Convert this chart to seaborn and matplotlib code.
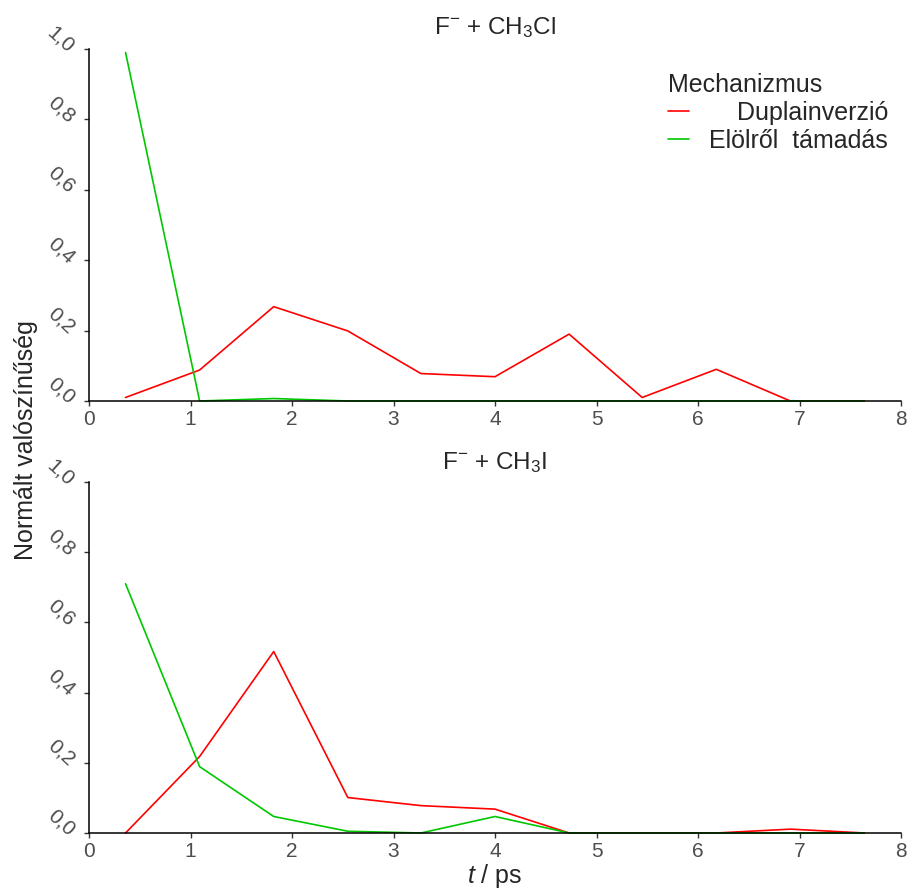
import matplotlib
matplotlib.use("Agg")
import matplotlib.pyplot as plt
import pandas as pd
import seaborn as sns

# Time bin centres (ps)
t_ps = [0.36, 1.09, 1.82, 2.55, 3.27, 4.00, 4.73, 5.45, 6.18, 6.91, 7.64]

# F- + CH3Cl
cl_duplainverzio = [0.010, 0.088, 0.268, 0.199, 0.078, 0.069, 0.190, 0.010, 0.090, 0.000, 0.000]
cl_elolrol = [0.990, 0.000, 0.007, 0.000, 0.000, 0.000, 0.000, 0.000, 0.000, 0.000, 0.000]

# F- + CH3I
i_duplainverzio = [0.000, 0.218, 0.517, 0.101, 0.078, 0.068, 0.000, 0.000, 0.000, 0.011, 0.000]
i_elolrol = [0.710, 0.189, 0.047, 0.005, 0.000, 0.047, 0.000, 0.000, 0.000, 0.000, 0.000]

mechanisms = ["Duplainverzió", "Elölről  támadás"]
colors = ["#FF0000", "#00C800"]
panel_titles = [r"F$^{-}$ + CH$_3$Cl", r"F$^{-}$ + CH$_3$I"]
x_ticks = [0, 1, 2, 3, 4, 5, 6, 7, 8]
y_ticks = [0.0, 0.2, 0.4, 0.6, 0.8, 1.0]
y_ticklabels = ["0,0", "0,2", "0,4", "0,6", "0,8", "1,0"]


def long_frame(dup, elo):
    rows = []
    for name, vals in zip(mechanisms, [dup, elo]):
        for t, p in zip(t_ps, vals):
            rows.append({"t": t, "p": p, "Mechanizmus": name})
    return pd.DataFrame(rows)


frames = [long_frame(cl_duplainverzio, cl_elolrol),
          long_frame(i_duplainverzio, i_elolrol)]

sns.set_style("ticks")
plt.rcParams["font.family"] = ["Liberation Sans", "DejaVu Sans"]
plt.rcParams["mathtext.fontset"] = "custom"
plt.rcParams["mathtext.rm"] = "Liberation Sans"
plt.rcParams["mathtext.it"] = "Liberation Sans:italic"

W, H = 907, 890
X0, X1 = 89, 901
fig = plt.figure(figsize=(W / 100, H / 100), dpi=100)
ax_top = fig.add_axes([X0 / W, 1 - 401 / H, (X1 - X0) / W, (401 - 49) / H])
ax_bot = fig.add_axes([X0 / W, 1 - 833 / H, (X1 - X0) / W, (833 - 482) / H])

for i, (ax, df) in enumerate(zip([ax_top, ax_bot], frames)):
    sns.lineplot(data=df, x="t", y="p", hue="Mechanizmus", hue_order=mechanisms,
                 palette=colors, linewidth=1.2, ax=ax, legend=(i == 0))
    for ln in ax.lines:
        ln.set_clip_on(False)
    ax.set_xlim(0, 8)
    ax.set_ylim(0, 1.0)
    ax.set_xticks(x_ticks, labels=[str(v) for v in x_ticks])
    ax.set_yticks(y_ticks, labels=y_ticklabels)
    ax.tick_params(axis="both", labelsize=15, labelcolor="#4D4D4D",
                   length=3.5, width=1.0, color="#333333")
    ax.tick_params(axis="x", pad=3)
    ax.tick_params(axis="y", pad=9)
    for lab in ax.get_yticklabels():
        lab.set_rotation(-42)
        lab.set_rotation_mode("anchor")
        lab.set_ha("right")
        lab.set_va("center")
    sns.despine(ax=ax)
    for s in ["left", "bottom"]:
        ax.spines[s].set_linewidth(1.1)
        ax.spines[s].set_color("black")
    ax.set_title(panel_titles[i], fontsize=17.5, pad=11 if i == 0 else 9)
    ax.set_ylabel("")
    ax.set_xlabel("")

ax_bot.set_xlabel(r"$t$ / ps", fontsize=18, labelpad=1)
fig.text(26 / W, 1 - 440 / H, "Normált valószínűség", rotation=90,
         ha="center", va="center", fontsize=18)

handles, labels = ax_top.get_legend_handles_labels()
ax_top.get_legend().remove()
leg = ax_top.legend(handles, labels, title="Mechanizmus", loc="upper left",
                    bbox_to_anchor=(668 / W, 1 - 73 / H), bbox_transform=fig.transFigure,
                    frameon=False, fontsize=18, title_fontsize=18,
                    handlelength=0.85, handletextpad=0.8, labelspacing=0.16,
                    borderpad=0, borderaxespad=0, alignment="left")
for h in leg.legend_handles:
    h.set_linewidth(1.2)

# right-justify the legend labels by shifting the shorter ones
fig.canvas.draw()
texts = leg.get_texts()
widths = [t.get_window_extent().width for t in texts]
w = max(widths)
for t, wi in zip(texts, widths):
    t.set_position((w - wi, 0))

fig.savefig("out.png", dpi=100)
